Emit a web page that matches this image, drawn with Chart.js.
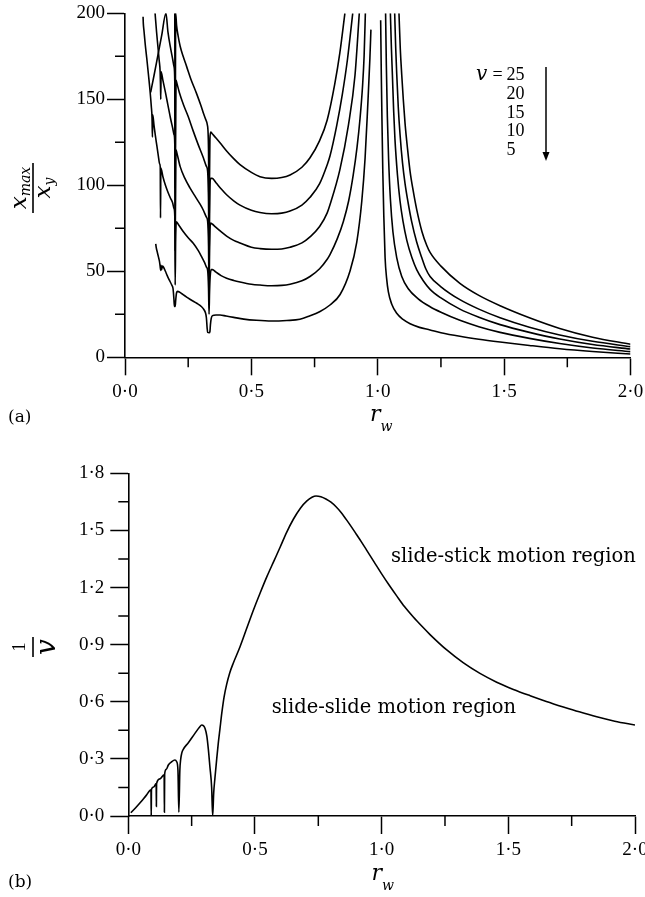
<!DOCTYPE html>
<html>
<head>
<meta charset="utf-8">
<script src="https://cdn.jsdelivr.net/npm/chart.js@4.4.1/dist/chart.umd.min.js"></script>
<style>
  html, body { margin: 0; padding: 0; background: #fff; }
  #wrap { position: relative; width: 645px; height: 897px; overflow: hidden; }
  canvas { position: absolute; left: 0; }
  #chartA { top: 0; }
  #chartB { top: 440px; }
</style>
</head>
<body>
<div id="wrap">
  <canvas id="chartA" width="645" height="440"></canvas>
  <canvas id="chartB" width="645" height="457"></canvas>
</div>
<script>
// ---- data ----
// (a) x_max/x_y against r_w, one curve per v, [r_w, ratio]; null = break at resonance
const speeds = [25, 20, 15, 10, 5]

const curveV25 = [
  [0.197,200],[0.1985,98],[0.2005,200],[0.204,193],[0.21,187],[0.218,181],[0.23,175],[0.244,169],[0.26,162],
  [0.284,153],[0.3,146.5],[0.31,142],[0.32,138],[0.326,135],[0.3305,120],[0.3325,72],[0.3345,105],[0.336,127],
  [0.339,131],[0.345,130],[0.36,127.5],[0.38,124],[0.402,120],[0.43,115.5],[0.455,112],[0.5,107.5],[0.534,105],
  [0.58,104],[0.62,104.5],[0.653,106],[0.7,110.5],[0.732,116],[0.77,126],[0.8,138],[0.83,159],[0.85,177],[0.87,200],
  [1.0,null],
  [1.084,200],[1.089,180],[1.095,164],[1.101,150],[1.108,136],[1.118,121],[1.128,108],[1.14,97],[1.154,86],
  [1.175,73],[1.194,65],[1.207,61],[1.25,53],[1.325,43],[1.4,36],[1.484,30],[1.6,23],[1.72,16.8],[1.85,11.7],[2.0,7.6]
]

const curveV20 = [
  [0.1015,154],[0.115,164],[0.13,175.5],[0.145,187],[0.162,200],[0.17,189],[0.18,180],[0.189,173],[0.194,169],
  [0.197,160],[0.1985,80],[0.2005,140],[0.202,161],[0.205,159.5],[0.215,154],[0.231,147],[0.25,140],[0.27,131.5],
  [0.29,123.5],[0.31,116],[0.322,111],[0.327,108],[0.3305,90],[0.3325,56],[0.3345,80],[0.336,99],[0.339,104],
  [0.345,104],[0.36,101.5],[0.38,98],[0.402,94.5],[0.43,91],[0.455,88.5],[0.5,85.5],[0.534,84.2],[0.58,83.5],
  [0.62,83.8],[0.653,85],[0.7,88.5],[0.732,93],[0.77,101],[0.8,112],[0.811,117],[0.838,135],[0.86,153],[0.88,173],[0.901,200],
  [1.0,null],
  [1.067,200],[1.071,180],[1.075,165],[1.081,146],[1.088,130],[1.098,113],[1.108,101],[1.12,90],[1.134,79],
  [1.154,67],[1.174,58],[1.19,51.5],[1.207,47],[1.25,41],[1.325,33.5],[1.4,28],[1.484,23],[1.6,17.5],[1.72,13],[1.85,9.3],[2.0,6.2]
]

const curveV15 = [
  [0.119,200],[0.125,189],[0.13,181],[0.135,173],[0.139,166],[0.1405,158],[0.1415,150],[0.1428,166],[0.15,161],
  [0.16,154],[0.17,146.5],[0.18,139],[0.189,133],[0.194,129.5],[0.197,124],[0.1985,62],[0.2005,110],[0.202,120.5],
  [0.205,119],[0.218,111],[0.237,104],[0.257,98.5],[0.28,93],[0.297,89],[0.31,85.5],[0.322,81.5],[0.327,79],
  [0.3305,65],[0.3325,40],[0.3345,60],[0.336,73],[0.339,78],[0.345,77.5],[0.36,75.5],[0.38,73],[0.402,70.5],
  [0.43,68],[0.455,66.5],[0.5,64],[0.534,63.2],[0.58,62.8],[0.62,63],[0.653,64],[0.7,66.5],[0.732,70],[0.77,76],
  [0.8,84],[0.811,88.7],[0.85,109],[0.884,135],[0.91,164],[0.927,200],
  [1.0,null],
  [1.05,200],[1.054,180],[1.058,164],[1.063,143],[1.068,127],[1.078,106],[1.088,91],[1.1,79],[1.115,68],
  [1.135,58],[1.154,51],[1.18,44.5],[1.207,39.5],[1.25,34.5],[1.325,28],[1.4,23.3],[1.484,19],[1.6,14.5],[1.72,10.6],[1.85,7.4],[2.0,4.8]
]

const curveV10 = [
  [0.0715,198],[0.0725,194],[0.075,190],[0.08,182],[0.086,174],[0.093,164],[0.099,155],[0.104,146],[0.107,139],
  [0.1085,128],[0.1098,141],[0.115,134.5],[0.12,129],[0.126,123],[0.132,117],[0.137,112.5],[0.1395,110.5],
  [0.1405,81],[0.1418,110],[0.15,105],[0.16,100],[0.17,96],[0.18,92.5],[0.188,90],[0.194,86.5],[0.197,82],
  [0.1985,42],[0.2005,70],[0.2035,78.8],[0.21,77.5],[0.231,73],[0.25,69.5],[0.27,66.3],[0.29,62],[0.303,58.5],
  [0.315,55],[0.322,52.5],[0.327,50.5],[0.3305,40],[0.3325,25],[0.3345,38],[0.337,47],[0.341,51],[0.346,51],
  [0.36,49.5],[0.38,47.5],[0.402,46],[0.43,44.7],[0.455,43.8],[0.5,42.5],[0.534,42],[0.58,41.6],[0.62,41.8],
  [0.653,42.5],[0.7,44.5],[0.732,47],[0.77,51.5],[0.8,57],[0.811,59.7],[0.84,69],[0.864,79],[0.885,91],[0.903,106],
  [0.918,122],[0.93,139],[0.94,158],[0.946,175],[0.951,200],
  [1.0,null],
  [1.031,200],[1.034,170],[1.038,140],[1.043,115],[1.05,92],[1.06,73],[1.075,58],[1.095,47],[1.12,40],[1.16,34],
  [1.207,29.4],[1.25,26.2],[1.325,21.5],[1.4,17.8],[1.484,14.5],[1.6,11],[1.72,8],[1.85,5.4],[2.0,3.3]
]

const curveV5 = [
  [0.1215,66],[0.124,63.5],[0.128,61],[0.132,58.5],[0.136,56],[0.139,53],[0.141,50.5],[0.1425,53.5],[0.145,51],
  [0.148,53],[0.152,52.5],[0.16,50],[0.167,47.5],[0.175,45],[0.185,42],[0.19,40],[0.1935,34],[0.1955,29.5],
  [0.1985,29.5],[0.2005,33],[0.204,37.5],[0.208,38.3],[0.215,38],[0.23,36.4],[0.244,35],[0.265,33],[0.284,31.4],
  [0.303,29.4],[0.312,27.8],[0.318,26],[0.322,23],[0.325,17],[0.327,14.5],[0.333,14.3],[0.336,15],[0.338,19],
  [0.341,22.5],[0.346,24.2],[0.36,24.6],[0.376,24.6],[0.4,24],[0.43,23.2],[0.47,22.2],[0.52,21.5],[0.58,21.1],
  [0.64,21.4],[0.692,22.1],[0.73,24],[0.77,26.5],[0.811,30.4],[0.851,36.5],[0.89,50],[0.917,67],[0.937,91],
  [0.95,116],[0.96,145],[0.969,174],[0.973,190.5],
  [1.0,null],
  [1.0115,196],[1.014,165],[1.017,135],[1.02,108],[1.024,82],[1.029,58],[1.035,46],[1.042,38],[1.055,31],
  [1.075,25.6],[1.1,22],[1.128,19.5],[1.165,17.4],[1.207,15.9],[1.25,14.3],[1.325,12.2],[1.4,10.5],[1.484,8.9],
  [1.6,6.9],[1.72,5],[1.85,3.4],[2.0,1.9]
]

// (b) 1/v boundary against r_w
const curveB = [
  [0.01,0.017],[0.03,0.045],[0.05,0.075],[0.07,0.107],[0.0895,0.137],[0.0905,0.0],[0.0915,0.14],[0.1,0.152],
  [0.11,0.17],[0.1108,0.05],[0.1116,0.17],[0.125,0.195],[0.1415,0.217],[0.1425,0.02],[0.1435,0.22],[0.15,0.245],
  [0.158,0.268],[0.171,0.285],[0.184,0.294],[0.191,0.285],[0.196,0.24],[0.1995,0.02],[0.2035,0.24],[0.207,0.3],
  [0.211,0.33],[0.217,0.35],[0.237,0.385],[0.263,0.434],[0.28,0.465],[0.29,0.478],[0.296,0.475],[0.303,0.46],
  [0.31,0.42],[0.316,0.35],[0.322,0.26],[0.329,0.15],[0.333,0.0],[0.337,0.12],[0.342,0.2],[0.349,0.3],[0.355,0.38],
  [0.362,0.46],[0.369,0.54],[0.378,0.625],[0.388,0.69],[0.4,0.75],[0.415,0.805],[0.441,0.889],[0.47,0.995],
  [0.494,1.082],[0.52,1.17],[0.547,1.257],[0.575,1.34],[0.6,1.414],[0.625,1.49],[0.652,1.56],[0.68,1.618],
  [0.705,1.655],[0.725,1.674],[0.741,1.681],[0.76,1.677],[0.78,1.665],[0.8,1.648],[0.82,1.624],[0.84,1.594],
  [0.86,1.558],[0.88,1.52],[0.9,1.48],[0.92,1.44],[0.94,1.398],[0.97,1.335],[1.0,1.272],[1.03,1.212],[1.06,1.155],
  [1.09,1.1],[1.125,1.045],[1.16,0.995],[1.191,0.953],[1.257,0.872],[1.323,0.804],[1.388,0.749],[1.454,0.703],
  [1.52,0.665],[1.586,0.632],[1.65,0.602],[1.717,0.573],[1.78,0.547],[1.849,0.521],[1.92,0.498],[2.0,0.478]
]

const xTickLabels = ['0\u00B70', '0\u00B75', '1\u00B70', '1\u00B75', '2\u00B70']
const yTickLabelsA = ['0', '50', '100', '150', '200']
const yTickLabelsB = ['0\u00B70', '0\u00B73', '0\u00B76', '0\u00B79', '1\u00B72', '1\u00B75', '1\u00B78']

// ---- helpers ----
const serif = '"Liberation Serif", serif'
const mathFont = '"DejaVu Serif", serif'

const toPoints = arr => arr.map(p => ({x: p[0], y: p[1]}))

function lineSet(arr, width){
  return {
    data: toPoints(arr),
    borderColor: '#000',
    borderWidth: width,
    pointRadius: 0,
    fill: false,
    spanGaps: false,
    cubicInterpolationMode: 'monotone'
  }
}

function makeScale(min, max, step, labels, pad, fix){
  return {
    type: 'linear',
    min: min,
    max: max,
    grid: {
      display: true,
      drawOnChartArea: false,
      drawTicks: true,
      tickLength: 18,
      tickWidth: 1.5,
      tickColor: c => (c.index % 2 === 0 ? '#000' : 'rgba(0,0,0,0)')
    },
    border: {display: true, color: '#000', width: 1.6},
    ticks: {
      stepSize: step,
      autoSkip: false,
      maxRotation: 0,
      padding: pad,
      color: '#000',
      font: {family: 'Liberation Serif', size: 19},
      callback: (value, index) => (index % 2 === 0 ? labels[index / 2] : '')
    },
    afterFit: fix
  }
}

function drawMinorTicks(chart){
  const ctx = chart.ctx
  const xs = chart.scales.x
  const ys = chart.scales.y
  ctx.save()
  ctx.strokeStyle = '#000'
  ctx.lineWidth = 1.5
  ctx.beginPath()
  xs.ticks.forEach((t, i) => {
    if (i % 2 === 0) return
    const px = xs.getPixelForValue(t.value)
    ctx.moveTo(px, ys.bottom)
    ctx.lineTo(px, ys.bottom + 10)
  })
  ys.ticks.forEach((t, i) => {
    if (i % 2 === 0) return
    const py = ys.getPixelForValue(t.value)
    ctx.moveTo(xs.left - 10, py)
    ctx.lineTo(xs.left, py)
  })
  ctx.stroke()
  ctx.restore()
}

// runs = [[text, font, baselineShift], ...]
function drawRuns(ctx, runs, x, y, center){
  let w = 0
  runs.forEach(r => { ctx.font = r[1]; w += ctx.measureText(r[0]).width })
  let cx = center ? x - w / 2 : x
  ctx.textAlign = 'left'
  ctx.textBaseline = 'alphabetic'
  runs.forEach(r => {
    ctx.font = r[1]
    ctx.fillText(r[0], cx, y + r[2])
    cx += ctx.measureText(r[0]).width
  })
}

function drawFraction(ctx, cx, cy, top, topBase, bottom, bottomBase, barLen){
  ctx.save()
  ctx.translate(cx, cy)
  ctx.rotate(-Math.PI / 2)
  drawRuns(ctx, top, 0, topBase, true)
  drawRuns(ctx, bottom, 0, bottomBase, true)
  ctx.fillRect(-barLen / 2, -0.8, barLen, 1.6)
  ctx.restore()
}

// ---- chart (a) ----
const annotateA = {
  id: 'annotateA',
  afterDraw: (chart) => {
    drawMinorTicks(chart)
    const ctx = chart.ctx
    ctx.save()
    ctx.fillStyle = '#000'
    ctx.strokeStyle = '#000'
    drawFraction(ctx, 33, 188,
      [['x', 'italic 23px ' + mathFont, 0], ['max', 'italic 14px ' + mathFont, 4]], -7,
      [['x', 'italic 23px ' + mathFont, 0], ['y', 'italic 14px ' + mathFont, 4]], 17, 50)
    drawRuns(ctx, [['r', 'italic 22px ' + mathFont, 0], ['w', 'italic 14px ' + mathFont, 10]], 370, 421, false)
    ctx.font = '17px ' + mathFont
    ctx.textAlign = 'left'
    ctx.fillText('(a)', 8, 422)

    // v legend with arrow
    ctx.font = 'italic 20px ' + mathFont
    ctx.fillText('v', 476, 80)
    ctx.font = '18px ' + serif
    ctx.fillText('=', 492.5, 80)
    speeds.forEach((s, i) => ctx.fillText(String(s), 506.5, 80 + i * 18.75))
    ctx.lineWidth = 1.5
    ctx.beginPath()
    ctx.moveTo(546, 67)
    ctx.lineTo(546, 154)
    ctx.stroke()
    ctx.beginPath()
    ctx.moveTo(542.5, 152)
    ctx.lineTo(549.5, 152)
    ctx.lineTo(546, 161)
    ctx.closePath()
    ctx.fill()
    ctx.restore()
  }
}

const ctxA = document.getElementById('chartA').getContext('2d')
const configA = {
  type: 'line',
  data: {
    datasets: [curveV25, curveV20, curveV15, curveV10, curveV5].map(c => lineSet(c, 1.6))
  },
  options: {
    responsive: false,
    animation: false,
    devicePixelRatio: 1,
    events: [],
    layout: {padding: {left: 0, right: 14.5, top: 13.3, bottom: 0}},
    plugins: {legend: {display: false}, tooltip: {enabled: false}},
    scales: {
      x: makeScale(0, 2, 0.25, xTickLabels, 5, s => { s.height = 82.7; s.paddingLeft = 0; s.paddingRight = 0 }),
      y: makeScale(0, 200, 25, yTickLabelsA, 2, s => { s.width = 125; s.paddingTop = 0; s.paddingBottom = 0 })
    }
  },
  plugins: [annotateA]
}
let chartA = new Chart(ctxA, configA)

// ---- chart (b) ----
const annotateB = {
  id: 'annotateB',
  afterDraw: (chart) => {
    drawMinorTicks(chart)
    const ctx = chart.ctx
    ctx.save()
    ctx.fillStyle = '#000'
    drawFraction(ctx, 33, 207,
      [['1', '19px ' + serif, 0]], -8,
      [['v', 'italic 28px ' + mathFont, 0]], 22, 20)
    drawRuns(ctx, [['r', 'italic 22px ' + mathFont, 0], ['w', 'italic 14px ' + mathFont, 10]], 371.5, 440, false)
    ctx.font = '17px ' + mathFont
    ctx.textAlign = 'left'
    ctx.fillText('(b)', 8, 446.7)
    ctx.font = '19.5px ' + mathFont
    ctx.fillText('slide-stick motion region', 391, 121.7)
    ctx.fillText('slide-slide motion region', 271.7, 273.3)
    ctx.restore()
  }
}

const ctxB = document.getElementById('chartB').getContext('2d')
const configB = {
  type: 'line',
  data: {
    datasets: [lineSet(curveB, 1.6)]
  },
  options: {
    responsive: false,
    animation: false,
    devicePixelRatio: 1,
    events: [],
    layout: {padding: {left: 0, right: 10, top: 33.3, bottom: 0}},
    plugins: {legend: {display: false}, tooltip: {enabled: false}},
    scales: {
      x: makeScale(0, 2, 0.25, xTickLabels, 5, s => { s.height = 81; s.paddingLeft = 0; s.paddingRight = 0 }),
      y: makeScale(0, 1.8, 0.15, yTickLabelsB, 6, s => { s.width = 128.3; s.paddingTop = 0; s.paddingBottom = 0 })
    }
  },
  plugins: [annotateB]
}
let chartB = new Chart(ctxB, configB)
</script>
</body>
</html>
